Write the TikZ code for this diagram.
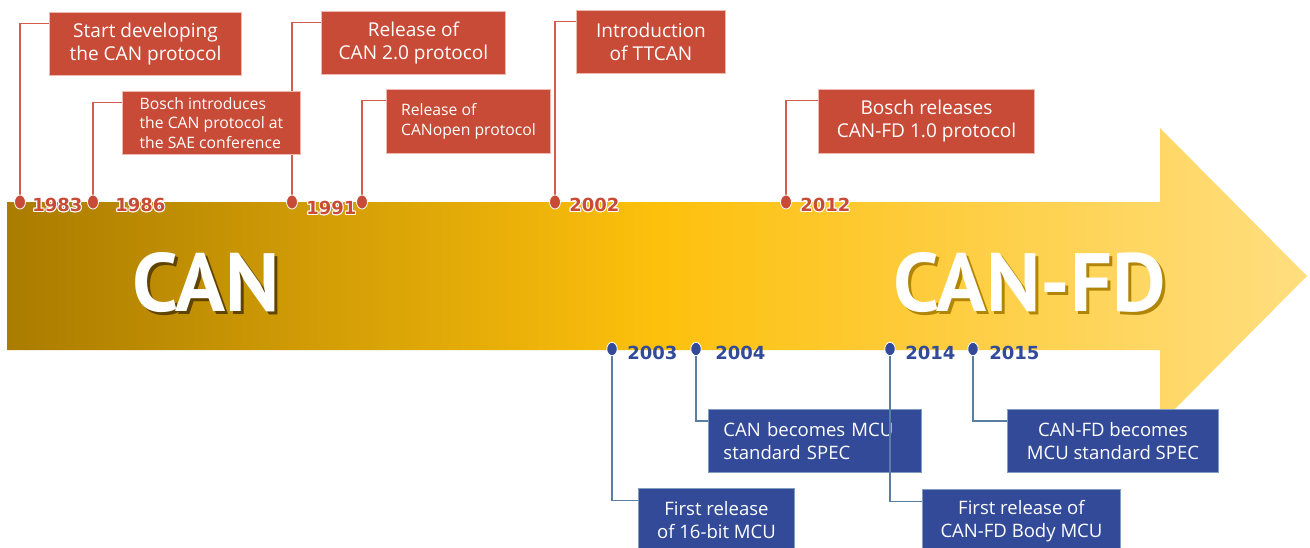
\documentclass[tikz,border=0pt]{standalone}
\usepackage{fontspec}
\setmainfont{Open Sans}
\newfontfamily\yearfont{DejaVu Sans}
\newfontfamily\bigfont{PT Sans}
\usetikzlibrary{shapes.geometric,positioning}

\definecolor{canred}{RGB}{199,75,55}
\definecolor{canredrim}{RGB}{238,185,175}
\definecolor{canredline}{RGB}{212,92,76}
\definecolor{canblue}{RGB}{50,74,152}
\definecolor{canbluerim}{RGB}{125,158,190}
\definecolor{canblueline}{RGB}{88,126,162}
\definecolor{goldA}{RGB}{170,124,0}
\definecolor{goldB}{RGB}{253,192,12}
\definecolor{goldC}{RGB}{255,222,128}

\pgfdeclarelayer{bg}
\pgfsetlayers{bg,main}

% white outline round the year labels
\newcommand{\halo}[1]{\makebox[0pt][l]{\color{white}%
  \makebox[0pt][l]{\hspace{0.8pt}#1}%
  \makebox[0pt][l]{\hspace{-0.8pt}#1}%
  \makebox[0pt][l]{\raisebox{0.8pt}{#1}}%
  \makebox[0pt][l]{\raisebox{-0.8pt}{#1}}%
  \makebox[0pt][l]{\hspace{0.6pt}\raisebox{0.6pt}{#1}}%
  \makebox[0pt][l]{\hspace{-0.6pt}\raisebox{0.6pt}{#1}}%
  \makebox[0pt][l]{\hspace{0.6pt}\raisebox{-0.6pt}{#1}}%
  \makebox[0pt][l]{\hspace{-0.6pt}\raisebox{-0.6pt}{#1}}}#1}
% drop shadow under the big words
\newcommand{\dropshadow}[2]{\makebox[0pt][l]{\hspace{2.2pt}\raisebox{-2.6pt}{\color{#1}#2}}#2}

\tikzstyle{redbox} = [rectangle, anchor=north west, fill=canred, draw=canredrim, line width=0.7pt,
  text=white, inner sep=0pt, minimum height=47.25pt, align=center, font=\fontsize{14.3}{17.3}\selectfont]
\tikzstyle{redsmall} = [redbox, align=left, font=\fontsize{11.8}{14.6}\selectfont]
\tikzstyle{bluebox} = [rectangle, anchor=north west, fill=canblue, draw=canbluerim, line width=0.7pt,
  text=white, inner sep=0pt, minimum height=47.25pt, align=center, font=\fontsize{13.9}{17.3}\selectfont]
\tikzstyle{reddot} = [ellipse, fill=canred, draw=white, line width=0.6pt, minimum width=8.2pt, minimum height=10.5pt, inner sep=0pt]
\tikzstyle{bluedot} = [ellipse, fill=canblue, draw=white, line width=0.6pt, minimum width=7.8pt, minimum height=10pt, inner sep=0pt]
\tikzstyle{year} = [anchor=west, inner sep=0pt, font=\yearfont\bfseries\fontsize{13.5}{13.5}\selectfont]
\tikzstyle{redline} = [draw=canredline, line width=1.1pt]
\tikzstyle{blueline} = [draw=canblueline, line width=1.1pt]
\tikzstyle{bigtext} = [inner sep=0pt, text=white, font=\bigfont\bfseries\fontsize{62}{62}\selectfont]

\begin{document}
\begin{tikzpicture}[x=0.75pt, y=-0.75pt]
\useasboundingbox (0,0) rectangle (1310,547);

% the big arrow
\begin{pgfonlayer}{bg}
\shade[left color=goldA, right color=goldC, middle color=goldB]
  (7,202) -- (1160,202) -- (1160,128) -- (1307,276) -- (1160,424) -- (1160,350) -- (7,350) -- cycle;
\end{pgfonlayer}

\node (can) at (206,284) [bigtext] {\dropshadow{goldA!55!black}{CAN}};
\node (fd) at (1030,284) [bigtext] {\dropshadow{goldB!70!black}{CAN-FD}};

% events above the arrow
\node (b83) at (49,12) [redbox, minimum width=144pt] {Start developing\\the CAN protocol};
\node (b86) at (122,91) [redsmall, minimum width=133.5pt] {Bosch introduces\\the CAN protocol at\\the SAE conference};
\node (b91) at (321,11) [redbox, minimum width=138pt] {Release of\\CAN 2.0 protocol};
\node (b94) at (386,89) [redsmall, minimum width=123pt, minimum height=48pt] {Release of\\CANopen protocol};
\node (b02) at (576,10) [redbox, minimum width=111.75pt] {Introduction\\of TTCAN};
\node (b12) at (818,89) [redbox, minimum width=162pt, minimum height=48pt] {Bosch releases\\CAN-FD 1.0 protocol};

% events below the arrow
\node (b03) at (638,488) [bluebox, minimum width=117pt] {First release\\of 16-bit MCU};
\node (b04) at (708,409) [bluebox, align=left, text width=137pt, inner xsep=11.25pt] {CAN becomes MCU\\standard SPEC};
\node (b14) at (922,489) [bluebox, minimum width=148.5pt] {First release of\\CAN-FD Body MCU};
\node (b15) at (1007,409) [bluebox, minimum width=158.25pt] {CAN-FD becomes\\MCU standard SPEC};

\node (d83) at (20,202) [reddot] {};
\node (d86) at (93,202) [reddot] {};
\node (d91) at (292,202) [reddot] {};
\node (d94) at (362,202) [reddot] {};
\node (d02) at (555,202) [reddot] {};
\node (d12) at (786,202) [reddot] {};
\node (d03) at (612,349) [bluedot] {};
\node (d04) at (696,349) [bluedot] {};
\node (d14) at (890,349) [bluedot] {};
\node (d15) at (973,349) [bluedot] {};

\node (y83) at (32,205) [year, text=canred] {\halo{1983}};
\node (y86) at (115,205) [year, text=canred] {\halo{1986}};
\node (y91) at (306,208) [year, text=canred] {\halo{1991}};
\node (y02) at (569,205) [year, text=canred] {\halo{2002}};
\node (y12) at (800,205) [year, text=canred] {\halo{2012}};
\node (y03) at (627,353) [year, text=canblue] {2003};
\node (y04) at (715,353) [year, text=canblue] {2004};
\node (y14) at (905,353) [year, text=canblue] {2014};
\node (y15) at (989,353) [year, text=canblue] {2015};

% leader lines
\begin{pgfonlayer}{bg}
\draw[redline] (d83.center) |- ([yshift=-8.5pt]b83.north west);
\draw[redline] (d86.center) |- ([yshift=-8.5pt]b86.north west);
\draw[redline] (d91.center) |- ([yshift=-8.5pt]b91.north west);
\draw[redline] (d94.center) |- ([yshift=-8.5pt]b94.north west);
\draw[redline] (d02.center) |- ([yshift=-8.5pt]b02.north west);
\draw[redline] (d12.center) |- ([yshift=-8.5pt]b12.north west);
\draw[blueline] (d03.center) |- ([yshift=-9.5pt]b03.north west);
\draw[blueline] (d04.center) |- ([yshift=-9pt]b04.north west);
\draw[blueline] (d15.center) |- ([yshift=-9pt]b15.north west);
\end{pgfonlayer}
\draw[blueline] (d14.south) |- ([yshift=-9.5pt]b14.north west);
\end{tikzpicture}
\end{document}
